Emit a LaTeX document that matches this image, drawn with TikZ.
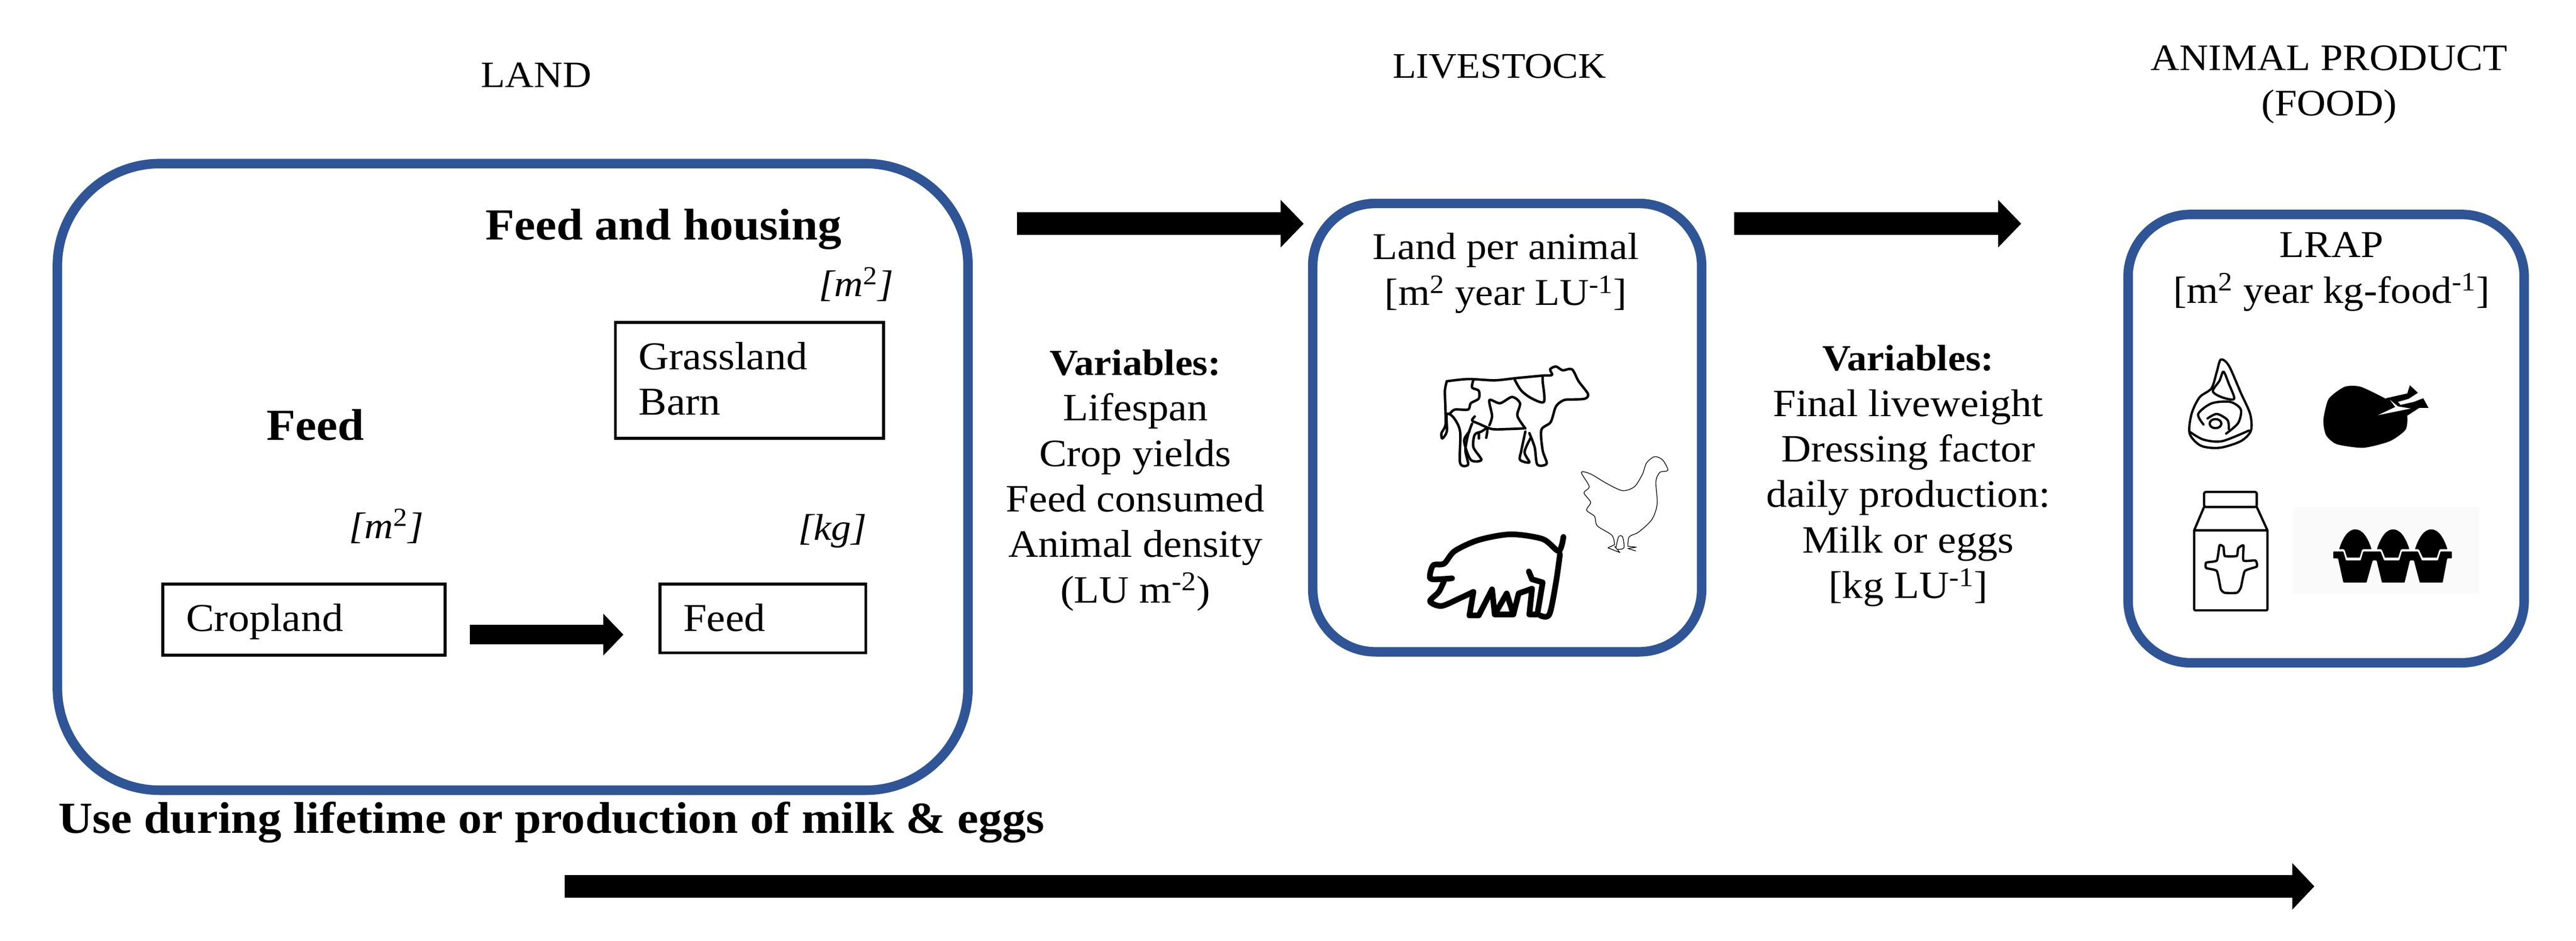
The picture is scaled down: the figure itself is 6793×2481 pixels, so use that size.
\documentclass[tikz,border=0pt]{standalone}
\usepackage{fontspec}
\setmainfont{Liberation Serif}[FakeStretch=1.07]
\usetikzlibrary{arrows.meta}
\definecolor{frameblue}{HTML}{2F5597}
\newcommand{\varhead}{{\fontsize{0.97cm}{1.2cm}\selectfont\bfseries Variables:}}
\tikzset{
  frame/.style={draw=frameblue,line width=0.25cm,fill=white,rounded corners=#1,inner sep=0pt,outer sep=0pt},
  plainbox/.style={draw=black,line width=0.08cm,inner ysep=0pt,align=left,font=\fontsize{1.04cm}{1.19cm}\selectfont},
  txt/.style={inner sep=0pt,outer sep=0pt,anchor=base,align=center,font=\fontsize{1.02cm}{1.2cm}\selectfont},
  boxtxt/.style={txt,font=\fontsize{1.0cm}{1.21cm}\selectfont},
  headtxt/.style={txt,font=\fontsize{#1}{1.19cm}\selectfont},
  boldtxt/.style={txt,font=\fontsize{1.17cm}{1.3cm}\selectfont\bfseries},
  unit/.style={txt,font=\fontsize{0.98cm}{1.2cm}\selectfont\itshape},
  blockarrow/.style={line width=0.6cm,-{Triangle[length=0.61cm,width=1.22cm]}},
  iconA/.style={shift={(3450,500)},x=0.00702cm,y=-0.00829cm},
  iconB/.style={shift={(5600,550)},x=0.00702cm,y=-0.00797cm},
  cowline/.style={line width=0.065cm,line cap=round,line join=round},
  pigline/.style={line width=0.15cm,line cap=round,line join=round},
  henline/.style={line width=0.018cm,line join=round},
  foodline/.style={line width=0.06cm,line cap=round,line join=round},
}
\begin{document}
\begin{tikzpicture}[x=0.01cm,y=-0.01cm]
\useasboundingbox (0,0) rectangle (6793,2481);
% frames
\node[frame=2.7cm,minimum width=24cm,minimum height=16.52cm] (land) at (1352,1258) {};
\node[frame=1.65cm,minimum width=10.25cm,minimum height=11.82cm] (stock) at (3974.5,1128) {};
\node[frame=1.65cm,minimum width=10.44cm,minimum height=11.82cm] (food) at (6134,1157) {};
% headings
\node[headtxt=0.98cm] (hland) at (1414,230) {LAND};
\node[headtxt=0.95cm] (hstock) at (3954,206) {LIVESTOCK};
\node[headtxt=0.985cm] (hfood) at (6142,305) {ANIMAL PRODUCT\\(FOOD)};
% land content
\node[boldtxt,anchor=base west] (fh) at (1280,632) {Feed and housing};
\node[boldtxt,anchor=base west] (fd) at (703,1161) {Feed};
\node[unit,anchor=base west] (u1) at (2160,782) {[m\textsuperscript{\upshape 2}]};
\node[unit,anchor=base west] (u2) at (921,1420) {[m\textsuperscript{\upshape 2}]};
\node[unit,anchor=base west] (u3) at (2105,1424) {[kg]};
\node[plainbox,minimum width=7.07cm,text width=5.85cm,text height=1.25cm,text depth=1.81cm,inner xsep=0.61cm] (grass) at (1976.5,1003) {Grassland\\Barn};
\node[plainbox,minimum width=7.44cm,text width=6.2cm,text height=1.24cm,text depth=0.63cm,inner xsep=0.62cm] (crop) at (801,1634.5) {Cropland};
\node[plainbox,minimum width=5.43cm,text width=4.19cm,text height=1.24cm,text depth=0.57cm,inner xsep=0.62cm] (feed) at (2011.5,1631.5) {Feed};
% arrows
\coordinate (a1s) at (1239,1674); \coordinate (a1e) at (1644,1674);
\draw[blockarrow,line width=0.52cm,-{Triangle[length=0.53cm,width=1.07cm]}] (a1s) -- (a1e);
\coordinate (a2s) at (2682,590); \coordinate (a2e) at (3438,590);
\draw[blockarrow] (a2s) -- (a2e);
\coordinate (a3s) at (4573,590); \coordinate (a3e) at (5330,590);
\draw[blockarrow] (a3s) -- (a3e);
\coordinate (a4s) at (1489,2338); \coordinate (a4e) at (6103,2338);
\draw[blockarrow,-{Triangle[length=0.58cm,width=1.19cm]}] (a4s) -- (a4e);
% variables
\node[txt] (v1) at (2994,1590) {\varhead\\Lifespan\\Crop yields\\Feed consumed\\Animal density\\(LU m\textsuperscript{-2})};
\node[txt] (v2) at (5032,1578) {\varhead\\Final liveweight\\Dressing factor\\daily production:\\Milk or eggs\\{[}kg LU\textsuperscript{-1}]};
% box titles
\node[boxtxt] (t1) at (3971,805) {Land per animal\\{[}m\textsuperscript{2} year LU\textsuperscript{-1}]};
\node[boxtxt] (t2) at (6148,799) {LRAP\\{[}m\textsuperscript{2} year kg-food\textsuperscript{-1}]};
% bottom text
\node[boldtxt,anchor=base west] (use) at (154,2198) {Use during lifetime or production of milk \& eggs};
% cow
\begin{scope}[iconA,cowline]
\draw plot[smooth,tension=0.5] coordinates {(520,610)(600,603)(700,607)(780,600)(880,592)(915,590)(908,572)(930,563)(955,575)(990,572)(1015,610)(1050,650)(1040,665)(1000,668)(960,670)(930,690)(910,740)(875,765)(880,830)(895,872)(860,875)(850,820)(830,775)};
\draw plot[smooth,tension=0.5] coordinates {(815,770)(800,830)(795,860)(830,868)(812,835)(835,790)};
\draw plot[smooth,tension=0.5] coordinates {(810,760)(750,762)(690,762)(640,745)(615,735)(625,722)};
\draw plot[smooth,tension=0.5] coordinates {(520,610)(513,640)(515,700)(515,750)(500,775)(503,792)(520,770)(520,715)(545,725)(570,770)(570,870)(600,875)(590,830)(600,780)(615,745)};
\draw plot[smooth,tension=0.5] coordinates {(605,770)(585,800)(610,860)(650,860)(620,820)(625,780)(650,770)(672,760)(668,790)};
\draw (640,775) -- (640,792);
\draw plot[smooth,tension=0.5] coordinates {(775,605)(800,640)(840,665)(885,675)(880,610)(880,595)};
\draw plot[smooth,tension=0.5] coordinates {(620,605)(615,630)(640,640)(640,665)(610,680)(600,700)(550,700)(530,715)};
\draw plot[smooth,tension=0.5] coordinates {(680,750)(690,720)(680,670)(720,680)(765,660)(795,680)(785,720)(815,760)};
\end{scope}
% pig
\begin{scope}[iconA,pigline]
\draw plot[smooth,tension=0.5] coordinates {(958,1105)(940,1150)(880,1112)(760,1097)(640,1115)(550,1150)(510,1190)(470,1195)(457,1225)(465,1240)(540,1237)};
\draw plot[smooth,tension=0.5] coordinates {(510,1245)(490,1280)(457,1310)(500,1325)(570,1300)(620,1280)};
\draw (620,1280) -- (605,1355) -- (640,1355) -- (690,1272) -- (700,1352) -- (770,1352) -- (790,1285) -- (840,1270) -- (830,1352) -- (860,1352) -- (880,1250) -- (840,1240) -- (828,1215);
\draw (700,1352) -- (745,1285) -- (770,1352);
\draw plot[smooth,tension=0.5] coordinates {(945,1160)(930,1250)(905,1352)(870,1355)};
\end{scope}
% hen
\begin{scope}[iconA,henline]
\draw plot[smooth,tension=0.5] coordinates {(1150,1130)(1140,1100)(1085,1070)(1075,1040)(1045,1020)(1060,995)(1035,965)(1055,945)(1025,900)(1060,905)(1120,935)(1180,958)(1225,945)(1255,905)(1270,870)(1300,850)(1330,860)(1350,893)(1320,900)(1305,930)(1310,1000)(1290,1050)(1240,1090)(1205,1105)(1200,1135)};
\draw (1150,1130) -- (1125,1140) -- (1170,1155) -- (1150,1135);
\draw (1200,1135) -- (1232,1138) -- (1200,1142) -- (1230,1150);
\draw plot[smooth,tension=0.5] coordinates {(1155,1140)(1165,1105)(1180,1105)(1185,1140)(1160,1145)};
\end{scope}
% meat
\begin{scope}[iconB,foodline]
\draw plot[smooth cycle,tension=0.5] coordinates {(365,500)(395,520)(440,610)(475,680)(478,735)(440,770)(360,792)(290,785)(248,745)(255,680)(285,625)(330,595)(350,540)};
\draw plot[smooth cycle,tension=0.5] coordinates {(375,540)(395,580)(415,630)(370,625)(335,605)(360,570)};
\draw plot[smooth,tension=0.5] coordinates {(300,715)(280,680)(330,645)(400,640)(440,665)(430,710)(385,745)};
\draw plot[smooth,tension=0.5] coordinates {(315,695)(350,680)(390,700)(395,730)};
\draw (345,712) ellipse (22 and 15);
\draw plot[smooth,tension=0.5] coordinates {(250,740)(300,765)(370,770)(470,735)};
% roast
\fill plot[smooth cycle,tension=0.4] coordinates {(750,700)(770,630)(830,590)(890,590)(985,630)(1060,670)(1060,730)(1000,770)(900,792)(800,780)(760,750)};
\fill (985,628) -- (1065,612) -- (1075,585) -- (1105,610) -- (1070,630) -- (1030,640) -- (1040,650) -- (1090,640) -- (1125,628) -- (1145,660) -- (1110,660) -- (1075,680) -- (1040,700) -- (990,680) -- cycle;
\fill[white] (955,684) -- (1020,657) -- (1000,633) -- (1030,655) -- (1078,662) -- cycle;
% carton
\draw[rounded corners=0.05cm] (302,988) -- (302,938) -- (500,938) -- (500,988) -- cycle;
\draw (302,988) -- (265,1065) -- (540,1065) -- (500,988);
\draw[rounded corners=0.03cm] (265,1065) -- (265,1330) -- (540,1330) -- (540,1065);
\draw plot[smooth cycle,tension=0.3] coordinates {(360,1115)(350,1165)(310,1172)(310,1190)(350,1200)(365,1260)(380,1272)(425,1272)(440,1255)(455,1200)(500,1185)(495,1165)(450,1165)(450,1115)(430,1125)(425,1150)(380,1150)(375,1120)};
% eggs
\fill[black!2] (638,987) rectangle (1334,1273);
\foreach \ex in {870,1012,1155}{
  \fill (\ex-60,1160) -- (\ex-60,1125) .. controls (\ex-45,1085) and (\ex-25,1062) .. (\ex,1062) .. controls (\ex+25,1062) and (\ex+45,1085) .. (\ex+60,1125) -- (\ex+60,1160) -- cycle;
}
\draw[white,line width=0.07cm] (787,1132) -- (825,1132) -- (835,1160) -- (890,1160) -- (900,1132) -- (965,1132) -- (978,1160) -- (1035,1160) -- (1045,1132) -- (1105,1132) -- (1120,1160) -- (1180,1160) -- (1190,1132) -- (1232,1132);
\fill[rounded corners=0.015cm] (787,1135) -- (825,1135) -- (835,1165) -- (890,1165) -- (900,1135) -- (965,1135) -- (978,1165) -- (1035,1165) -- (1045,1135) -- (1105,1135) -- (1120,1165) -- (1180,1165) -- (1190,1135) -- (1232,1135) -- (1232,1158) -- (1215,1158) -- (1198,1238) -- (1112,1238) -- (1090,1165) -- (1075,1165) -- (1055,1238) -- (970,1238) -- (950,1165) -- (935,1165) -- (912,1238) -- (825,1238) -- (805,1158) -- (787,1158) -- cycle;
\end{scope}
\end{tikzpicture}
\end{document}
